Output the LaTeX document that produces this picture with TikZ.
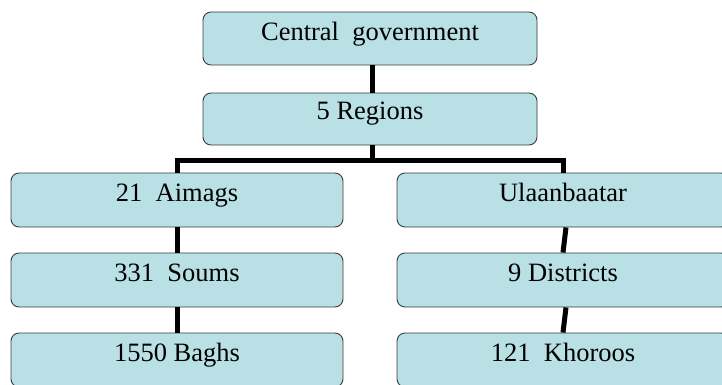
\documentclass[tikz,border=0pt]{standalone}
\usepackage{fontspec}
\setmainfont{Liberation Serif}
\definecolor{boxfill}{RGB}{185,224,228}
\definecolor{boxline}{RGB}{60,60,60}
\begin{document}
\begin{tikzpicture}[x=1pt,y=-1pt,
  box/.style={draw=boxline, line width=0.9pt, fill=boxfill, rounded corners=8pt,
    minimum width=332pt, minimum height=54pt, inner sep=0pt,
    text height=12pt, text depth=10pt,
    font=\fontsize{26.5}{26.5}\selectfont},
  conn/.style={line width=5pt, black, line join=miter}]
\clip (0,0) rectangle (722,385);
\fill[white] (0,0) rectangle (722,385);
\node[box, minimum width=334pt, minimum height=53pt, text height=13pt, text depth=8pt] (cg) at (370,38.5) {Central\ \ government};
\node[box, minimum width=334pt, minimum height=52pt] (reg) at (370,119) {5 Regions};
\node[box] (aim) at (177,200) {21\ \ Aimags};
\node[box] (soum) at (177,280) {331\ \ Soums};
\node[box] (bagh) at (177,360) {1550 Baghs};
\node[box] (ub) at (563,200) {Ulaanbaatar};
\node[box] (dist) at (563,280) {9 Districts};
\node[box] (kh) at (563,360) {121\ \ Khoroos};
\coordinate (hub) at (372,160);
\draw[conn] ([xshift=2pt]cg.south) -- ([xshift=2pt]reg.north);
\draw[conn] ([xshift=2pt]reg.south) -- (hub);
\draw[conn] (aim.north) |- (hub) -| (ub.north);
\draw[conn] (aim.south) -- (soum.north);
\draw[conn] (soum.south) -- (bagh.north);
\draw[conn] ([xshift=3pt]ub.south) -- (dist.north);
\draw[conn] ([xshift=3pt]dist.south) -- (kh.north);
\end{tikzpicture}
\end{document}
